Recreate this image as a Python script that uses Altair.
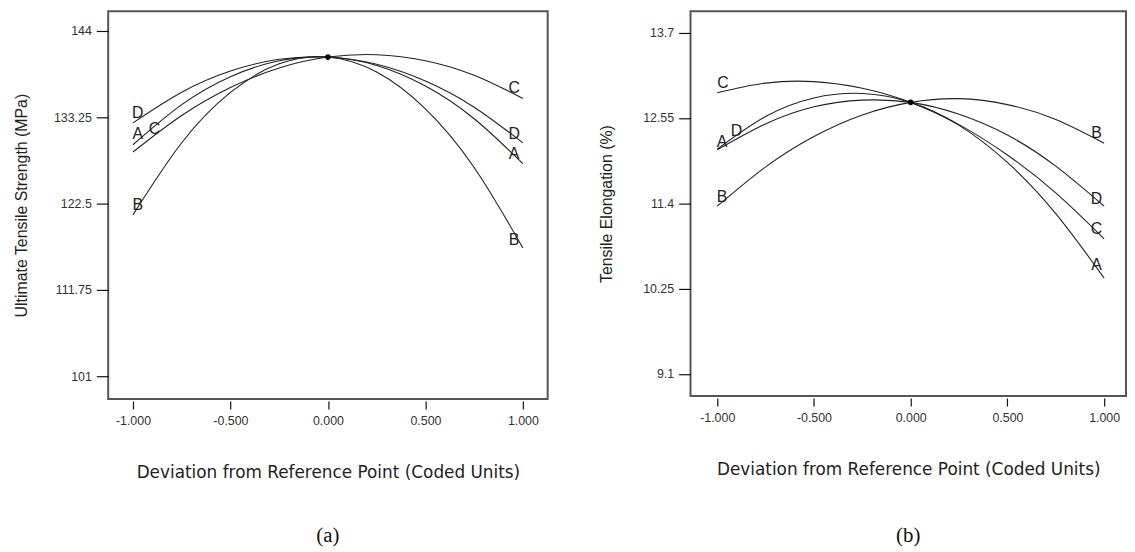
import altair as alt
import pandas as pd

# ---------------- data ----------------
x_coded = [-1.0, -0.75, -0.5, -0.25, 0.0, 0.25, 0.5, 0.75, 1.0]
factors = ["A", "B", "C", "D"]

# (a) Ultimate Tensile Strength (MPa)
uts_A = [129.83, 134.83, 138.31, 140.29, 140.75, 139.70, 137.14, 133.07, 127.48]
uts_B = [121.10, 130.08, 136.35, 139.91, 140.75, 138.88, 134.29, 126.99, 116.98]
uts_C = [128.93, 133.48, 136.96, 139.39, 140.75, 141.05, 140.30, 138.48, 135.60]
uts_D = [132.55, 136.37, 139.01, 140.47, 140.75, 139.85, 137.77, 134.51, 130.07]
uts_ref = 140.75
uts_ticks = [101, 111.75, 122.5, 133.25, 144]
uts_lab_factor = ["D", "A", "C", "B", "C", "D", "A", "B"]
uts_lab_x = [-0.975, -0.975, -0.89, -0.975, 0.955, 0.955, 0.955, 0.955]
uts_lab_y = [133.13, 130.53, 131.15, 121.76, 136.28, 130.60, 128.06, 117.37]

# (b) Tensile Elongation (%)
te_A = [12.13, 12.57, 12.82, 12.88, 12.76, 12.45, 11.95, 11.26, 10.39]
te_B = [11.36, 11.89, 12.30, 12.59, 12.76, 12.81, 12.73, 12.53, 12.21]
te_C = [12.89, 13.02, 13.04, 12.95, 12.76, 12.46, 12.05, 11.54, 10.92]
te_D = [12.12, 12.47, 12.70, 12.79, 12.76, 12.60, 12.32, 11.90, 11.36]
te_ref = 12.76
te_ticks = [9.1, 10.25, 11.4, 12.55, 13.7]
te_lab_factor = ["C", "A", "D", "B", "B", "D", "C", "A"]
te_lab_x = [-0.97, -0.975, -0.90, -0.975, 0.96, 0.96, 0.96, 0.96]
te_lab_y = [12.95, 12.16, 12.31, 11.41, 12.28, 11.39, 10.99, 10.50]

x_ticks = [-1.0, -0.5, 0.0, 0.5, 1.0]
x_title = "Deviation from Reference Point (Coded Units)"

SANS = "Liberation Sans"
INK = "#222222"


def long_table(series):
    rows = []
    for f, vals in zip(factors, series):
        for x, v in zip(x_coded, vals):
            rows.append({"x": x, "y": v, "factor": f})
    return pd.DataFrame(rows)


def panel(series, ref, ticks, lab_f, lab_x, lab_y, ydom, xdom, ytitle,
          width, height, ytitle_pad, sub, sub_offset):
    lines_df = long_table(series)
    labels_df = pd.DataFrame({"factor": lab_f, "x": lab_x, "y": lab_y})
    ref_df = pd.DataFrame({"x": [0.0], "y": [ref]})

    xs = alt.Scale(domain=xdom, nice=False, zero=False)
    ys = alt.Scale(domain=ydom, nice=False, zero=False)
    xax = alt.Axis(
        values=x_ticks,
        labelExpr="datum.value < 0 ? '-' + format(-datum.value, '.3f') : format(datum.value, '.3f')",
        tickSize=8, tickColor="#111111", tickWidth=1.2, offset=2,
        labelFont=SANS, labelFontSize=12.5, labelColor="#333333", labelPadding=6,
        domain=False, grid=False, title=x_title,
        titleFont="DejaVu Sans", titleFontSize=17, titleFontWeight="normal",
        titleColor=INK, titlePadding=38,
    )
    yax = alt.Axis(
        values=ticks, labelExpr="datum.value + ''",
        tickSize=12, tickColor="#111111", tickWidth=1.2,
        labelFont=SANS, labelFontSize=12.5, labelColor="#333333", labelPadding=5,
        domain=False, grid=False, title=ytitle,
        titleFont=SANS, titleFontSize=16, titleFontWeight="normal",
        titleColor=INK, titlePadding=ytitle_pad,
    )

    lines = alt.Chart(lines_df).mark_line(
        color=INK, strokeWidth=1.1, interpolate="natural"
    ).encode(
        x=alt.X("x:Q", scale=xs, axis=xax),
        y=alt.Y("y:Q", scale=ys, axis=yax),
        detail="factor:N",
    )
    labels = alt.Chart(labels_df).mark_text(
        font=SANS, fontSize=16, color=INK, align="center", baseline="alphabetic"
    ).encode(x="x:Q", y="y:Q", text="factor:N")
    point = alt.Chart(ref_df).mark_point(
        filled=True, color="#000000", size=32, opacity=1
    ).encode(x="x:Q", y="y:Q")

    return alt.layer(lines, labels, point).properties(
        width=width, height=height,
        title=alt.TitleParams(sub, orient="bottom", font="Liberation Serif",
                              fontSize=21, fontWeight="normal", color="#111111",
                              offset=sub_offset),
    )


left = panel([uts_A, uts_B, uts_C, uts_D], uts_ref, uts_ticks,
             uts_lab_factor, uts_lab_x, uts_lab_y,
             [98.16, 146.47], [-1.127, 1.127],
             "Ultimate Tensile Strength (MPa)", 443, 391, 24, "(a)", 45)
right = panel([te_A, te_B, te_C, te_D], te_ref, te_ticks,
              te_lab_factor, te_lab_x, te_lab_y,
              [8.80, 13.99], [-1.138, 1.113],
              "Tensile Elongation (%)", 439, 388, 28, "(b)", 48)

chart = alt.hconcat(left, right, spacing=144, bounds="flush").configure(
    padding={"left": 4, "top": 0, "right": 0, "bottom": 0},
    background="white",
).configure_view(stroke="#555555", strokeWidth=2)

chart.save("out.html", embed_options={"renderer": "svg", "actions": False})
